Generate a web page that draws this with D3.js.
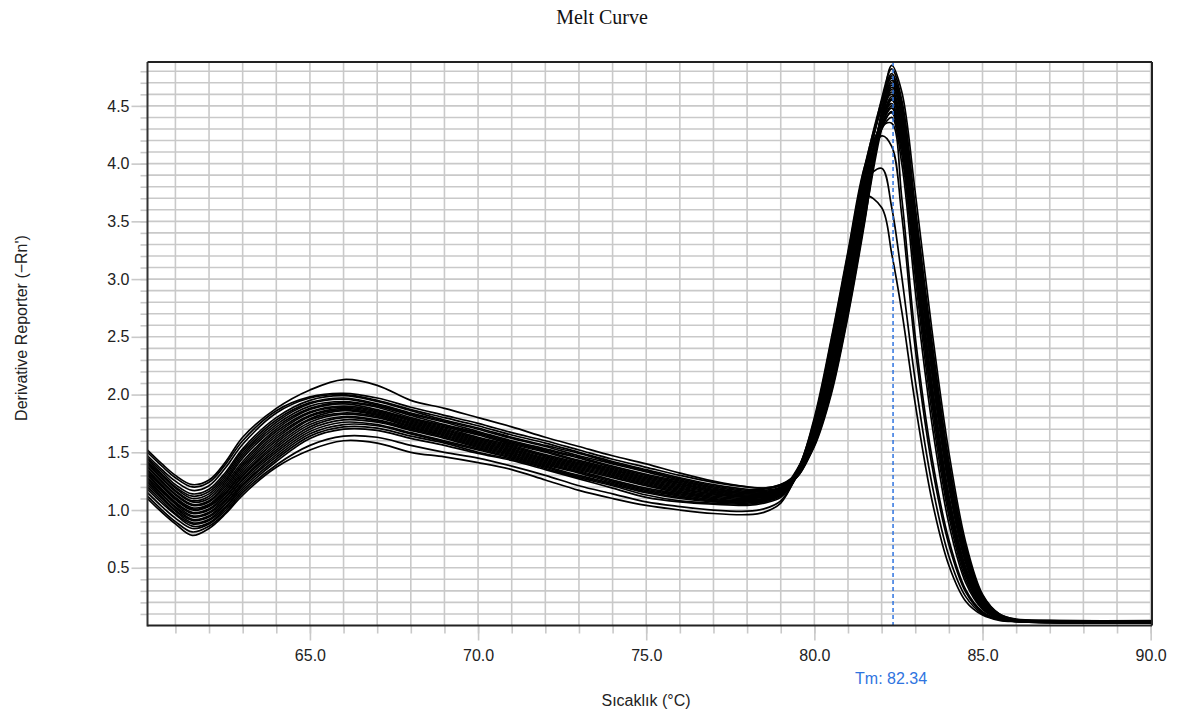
<!DOCTYPE html>
<html><head><meta charset="utf-8">
<script src="https://cdn.jsdelivr.net/npm/d3@7"></script>
<style>
html,body{margin:0;padding:0;background:#fff;}
svg{display:block;}
</style></head>
<body>
<svg id="chart" width="1183" height="718"></svg>
<script>
// ---------- DATA ----------
const chartTitle = "Melt Curve";
const xTitle = "Sıcaklık (°C)";
const yTitle = "Derivative Reporter (−Rn')";
const tmValue = 82.34;
const tmLabel = "Tm: 82.34";

const xTickLabels = ["65.0", "70.0", "75.0", "80.0", "85.0", "90.0"];
const yTickLabels = ["0.5", "1.0", "1.5", "2.0", "2.5", "3.0", "3.5", "4.0", "4.5"];

const humpTemps = [60.17, 60.6, 61, 61.5, 62, 62.5, 63, 64, 65, 66, 67, 68, 69, 70, 71, 72, 73, 74, 75, 76, 77, 78, 78.5, 79];
const peakTemps = [79.5, 80, 80.5, 81, 81.5, 82, 82.3, 82.6, 83, 83.5, 84, 84.5, 85, 85.5, 86, 87, 90];

const humpValues = [
  [1.52,1.40,1.30,1.22,1.26,1.42,1.63,1.88,2.04,2.13,2.08,1.95,1.88,1.80,1.72,1.63,1.55,1.47,1.40,1.32,1.25,1.20,1.19,1.22],
  [1.50,1.38,1.28,1.20,1.24,1.40,1.60,1.86,1.98,2.01,1.97,1.89,1.82,1.75,1.67,1.60,1.52,1.44,1.37,1.30,1.24,1.20,1.19,1.22],
  [1.47,1.35,1.25,1.17,1.21,1.37,1.57,1.84,1.97,2.00,1.95,1.87,1.80,1.73,1.65,1.58,1.50,1.42,1.35,1.28,1.22,1.18,1.18,1.21],
  [1.45,1.33,1.22,1.14,1.18,1.33,1.53,1.80,1.95,1.99,1.94,1.86,1.78,1.71,1.63,1.56,1.49,1.41,1.34,1.27,1.21,1.17,1.17,1.20],
  [1.44,1.31,1.20,1.12,1.16,1.31,1.51,1.78,1.93,1.97,1.92,1.84,1.77,1.70,1.62,1.55,1.47,1.40,1.33,1.26,1.20,1.16,1.16,1.19],
  [1.42,1.30,1.19,1.10,1.14,1.29,1.49,1.76,1.92,1.96,1.91,1.83,1.76,1.68,1.60,1.53,1.46,1.38,1.31,1.25,1.19,1.15,1.15,1.19],
  [1.41,1.28,1.17,1.08,1.12,1.27,1.47,1.74,1.90,1.94,1.90,1.82,1.74,1.67,1.59,1.52,1.45,1.37,1.30,1.24,1.18,1.15,1.15,1.18],
  [1.40,1.27,1.16,1.07,1.10,1.25,1.45,1.72,1.88,1.93,1.89,1.80,1.73,1.66,1.58,1.51,1.43,1.36,1.29,1.23,1.17,1.14,1.14,1.18],
  [1.38,1.25,1.14,1.05,1.08,1.23,1.42,1.70,1.87,1.92,1.87,1.79,1.72,1.65,1.57,1.50,1.42,1.35,1.28,1.22,1.17,1.14,1.14,1.17],
  [1.37,1.24,1.13,1.04,1.07,1.21,1.40,1.68,1.85,1.90,1.86,1.78,1.71,1.63,1.56,1.48,1.41,1.34,1.27,1.21,1.16,1.13,1.13,1.17],
  [1.35,1.22,1.11,1.02,1.05,1.19,1.38,1.66,1.84,1.89,1.85,1.77,1.70,1.62,1.55,1.47,1.40,1.33,1.26,1.20,1.15,1.12,1.13,1.17],
  [1.34,1.21,1.10,1.01,1.04,1.17,1.36,1.64,1.82,1.88,1.84,1.76,1.69,1.61,1.54,1.46,1.39,1.32,1.25,1.19,1.14,1.12,1.12,1.16],
  [1.32,1.20,1.09,1.00,1.03,1.15,1.34,1.62,1.81,1.87,1.83,1.75,1.68,1.60,1.53,1.45,1.38,1.31,1.24,1.18,1.14,1.11,1.12,1.16],
  [1.31,1.18,1.07,0.98,1.01,1.14,1.32,1.60,1.79,1.86,1.82,1.74,1.67,1.59,1.52,1.44,1.37,1.30,1.23,1.17,1.13,1.11,1.11,1.16],
  [1.30,1.17,1.06,0.97,1.00,1.12,1.30,1.58,1.78,1.84,1.81,1.73,1.66,1.58,1.51,1.43,1.36,1.29,1.22,1.16,1.12,1.10,1.11,1.15],
  [1.28,1.16,1.05,0.95,0.98,1.11,1.29,1.56,1.76,1.83,1.80,1.72,1.65,1.57,1.50,1.42,1.35,1.28,1.21,1.15,1.11,1.09,1.10,1.15],
  [1.27,1.14,1.03,0.94,0.97,1.09,1.27,1.54,1.74,1.81,1.78,1.71,1.64,1.56,1.49,1.41,1.34,1.26,1.19,1.14,1.10,1.08,1.10,1.14],
  [1.25,1.13,1.02,0.92,0.95,1.08,1.26,1.52,1.72,1.80,1.77,1.70,1.63,1.55,1.48,1.40,1.33,1.25,1.18,1.13,1.09,1.08,1.09,1.14],
  [1.24,1.11,1.00,0.91,0.94,1.06,1.24,1.50,1.70,1.78,1.76,1.69,1.62,1.54,1.47,1.39,1.32,1.24,1.17,1.12,1.08,1.07,1.09,1.14],
  [1.22,1.10,0.99,0.89,0.92,1.05,1.22,1.48,1.68,1.76,1.74,1.67,1.60,1.53,1.46,1.38,1.30,1.23,1.16,1.11,1.08,1.07,1.08,1.13],
  [1.20,1.08,0.97,0.88,0.91,1.03,1.21,1.46,1.66,1.74,1.73,1.66,1.59,1.52,1.45,1.37,1.29,1.22,1.15,1.10,1.07,1.06,1.08,1.13],
  [1.18,1.06,0.96,0.86,0.89,1.02,1.19,1.44,1.64,1.72,1.71,1.64,1.58,1.50,1.44,1.36,1.28,1.21,1.13,1.08,1.06,1.05,1.07,1.12],
  [1.15,1.03,0.93,0.84,0.88,1.00,1.17,1.42,1.62,1.70,1.69,1.62,1.56,1.49,1.43,1.35,1.27,1.19,1.11,1.07,1.05,1.04,1.06,1.11],
  [1.12,1.00,0.90,0.81,0.86,0.98,1.15,1.39,1.56,1.64,1.63,1.56,1.50,1.45,1.38,1.30,1.21,1.14,1.07,1.03,1.00,0.99,1.01,1.08],
  [1.10,0.98,0.88,0.78,0.84,0.97,1.13,1.37,1.52,1.60,1.58,1.50,1.46,1.41,1.35,1.26,1.17,1.10,1.04,1.00,0.97,0.96,0.98,1.06]
];

const peakValues = [
  [1.31,1.60,2.10,2.80,3.62,4.32,4.50,4.22,3.22,2.04,1.10,0.48,0.18,0.07,0.040,0.032,0.030],
  [1.33,1.70,2.32,3.08,3.88,4.52,4.78,4.50,3.55,2.35,1.35,0.62,0.23,0.09,0.050,0.040,0.038],
  [1.31,1.62,2.14,2.86,3.68,4.40,4.62,4.36,3.40,2.22,1.24,0.57,0.21,0.08,0.040,0.028,0.024],
  [1.34,1.74,2.38,3.14,3.92,4.48,4.70,4.40,3.42,2.22,1.24,0.56,0.21,0.08,0.045,0.036,0.034],
  [1.29,1.56,2.02,2.70,3.52,4.30,4.55,4.32,3.40,2.24,1.26,0.59,0.22,0.08,0.045,0.030,0.027],
  [1.30,1.58,2.06,2.74,3.58,4.45,4.85,4.62,3.75,2.55,1.50,0.72,0.27,0.10,0.055,0.044,0.042],
  [1.32,1.72,2.36,3.12,3.88,4.30,4.40,4.00,2.90,1.74,0.88,0.37,0.14,0.06,0.038,0.026,0.022],
  [1.29,1.57,2.04,2.72,3.56,4.36,4.66,4.44,3.52,2.35,1.34,0.63,0.24,0.09,0.050,0.038,0.035],
  [1.35,1.76,2.42,3.18,3.96,4.54,4.74,4.45,3.48,2.28,1.28,0.58,0.22,0.08,0.045,0.033,0.029],
  [1.34,1.68,2.28,3.02,3.80,4.34,4.48,4.14,3.10,1.92,1.00,0.43,0.16,0.065,0.040,0.030,0.026],
  [1.35,1.78,2.46,3.22,3.98,4.48,4.60,4.28,3.28,2.08,1.12,0.50,0.19,0.07,0.045,0.037,0.036],
  [1.36,1.66,2.24,2.98,3.82,4.56,4.82,4.55,3.62,2.42,1.40,0.66,0.25,0.09,0.050,0.042,0.040],
  [1.34,1.80,2.48,3.24,3.98,4.32,4.35,3.70,2.50,1.45,0.74,0.31,0.12,0.055,0.035,0.024,0.021],
  [1.32,1.64,2.18,2.90,3.72,4.42,4.68,4.42,3.46,2.28,1.30,0.60,0.22,0.09,0.048,0.035,0.031],
  [1.33,1.69,2.30,3.04,3.84,4.38,4.52,4.20,3.18,2.00,1.06,0.46,0.17,0.07,0.042,0.031,0.028],
  [1.31,1.55,2.00,2.68,3.50,4.44,4.76,4.52,3.60,2.45,1.42,0.68,0.26,0.10,0.052,0.039,0.037],
  [1.33,1.75,2.40,3.16,3.94,4.34,4.44,4.08,3.02,1.84,0.95,0.40,0.15,0.06,0.038,0.027,0.025],
  [1.33,1.63,2.16,2.88,3.70,4.42,4.64,4.34,3.36,2.18,1.20,0.54,0.20,0.08,0.046,0.034,0.032],
  [1.33,1.73,2.36,3.10,3.86,4.24,4.15,3.55,2.40,1.38,0.70,0.29,0.11,0.05,0.035,0.029,0.027],
  [1.30,1.61,2.12,2.84,3.66,4.36,4.58,4.33,3.38,2.20,1.22,0.56,0.21,0.08,0.044,0.033,0.030],
  [1.30,1.59,2.08,2.78,3.60,4.40,4.72,4.48,3.55,2.38,1.36,0.64,0.24,0.09,0.050,0.041,0.039],
  [1.32,1.70,2.34,3.08,3.84,3.96,3.62,3.02,2.12,1.22,0.60,0.25,0.10,0.05,0.034,0.025,0.023],
  [1.30,1.67,2.26,3.00,3.78,4.30,4.45,4.15,3.14,1.96,1.04,0.45,0.17,0.07,0.041,0.032,0.030],
  [1.31,1.71,2.34,3.06,3.72,3.62,3.22,2.72,1.92,1.08,0.52,0.21,0.09,0.045,0.033,0.026,0.024],
  [1.32,1.65,2.20,2.94,3.76,4.38,4.56,4.26,3.26,2.08,1.12,0.50,0.19,0.07,0.043,0.035,0.033]
];

// ---------- CHART ----------
const svg = d3.select("#chart");
const L = 147.5, R = 1152, T = 62, B = 625.5;

const x = d3.scaleLinear().domain([60.17, 90.04]).range([L, R]);
const y = d3.scaleLinear().domain([0, 4.88]).range([B, T]);

const xMinor = d3.range(61, 91);
const xMajor = xTickLabels.map(Number);
const yMinor = d3.range(1, 49).map(d => d / 10);
const yMajor = yTickLabels.map(Number);

const gridColor = "#c9c9c9";
const font = "'Liberation Sans', Arial, Helvetica, sans-serif";

svg.append("defs").append("clipPath").attr("id", "plotclip")
  .append("rect").attr("x", L).attr("y", T).attr("width", R - L).attr("height", B - T);

// grid
const grid = svg.append("g");
grid.selectAll("line.v").data(xMinor).join("line")
  .attr("x1", d => x(d)).attr("x2", d => x(d)).attr("y1", T).attr("y2", B)
  .attr("stroke", gridColor).attr("stroke-width", 1.6);
grid.selectAll("line.h").data(yMinor).join("line")
  .attr("x1", L).attr("x2", R).attr("y1", d => y(d)).attr("y2", d => y(d))
  .attr("stroke", gridColor).attr("stroke-width", 1.6);

// axes ticks
function styleAxis(g) {
  g.select(".domain").remove();
  g.selectAll(".tick line").attr("stroke", gridColor).attr("stroke-width", 1.6);
  g.selectAll(".tick text").attr("fill", "#222").style("font-family", font).style("font-size", "16px");
}
svg.append("g").attr("transform", `translate(${L},0)`)
  .call(d3.axisLeft(y).tickValues(yMinor).tickSize(7).tickFormat(""))
  .call(styleAxis);
svg.append("g").attr("transform", `translate(${L},0)`)
  .call(d3.axisLeft(y).tickValues(yMajor).tickSize(16).tickPadding(2).tickFormat((d, i) => yTickLabels[i]))
  .call(styleAxis);
svg.append("g").attr("transform", `translate(0,${B})`)
  .call(d3.axisBottom(x).tickValues(xMinor).tickSize(8).tickFormat(""))
  .call(styleAxis);
svg.append("g").attr("transform", `translate(0,${B})`)
  .call(d3.axisBottom(x).tickValues(xMajor).tickSize(15).tickPadding(9).tickFormat((d, i) => xTickLabels[i]))
  .call(styleAxis);

// curves
const line = d3.line()
  .x(d => x(d[0])).y(d => y(d[1]))
  .curve(d3.curveCatmullRom.alpha(0.5));
const curves = humpValues.map((h, i) =>
  humpTemps.map((t, j) => [t, h[j]]).concat(peakTemps.map((t, j) => [t, peakValues[i][j]])));

svg.append("g").attr("clip-path", "url(#plotclip)")
  .selectAll("path").data(curves).join("path")
  .attr("d", line)
  .attr("fill", "none").attr("stroke", "#000").attr("stroke-width", 1.7);

// Tm line
svg.append("line")
  .attr("x1", x(tmValue)).attr("x2", x(tmValue)).attr("y1", T).attr("y2", B)
  .attr("stroke", "#2f74e0").attr("stroke-width", 1.5).attr("stroke-dasharray", "4,3");
svg.append("text").attr("x", x(tmValue) - 2).attr("y", 684)
  .attr("text-anchor", "middle").attr("fill", "#2f74e0")
  .style("font-family", font).style("font-size", "16px").text(tmLabel);

// frame
svg.append("line").attr("x1", L).attr("x2", L).attr("y1", T).attr("y2", B + 1)
  .attr("stroke", "#333").attr("stroke-width", 2);
svg.append("line").attr("x1", L).attr("x2", R).attr("y1", B).attr("y2", B)
  .attr("stroke", "#222").attr("stroke-width", 2);
svg.append("line").attr("x1", L).attr("x2", R).attr("y1", T).attr("y2", T)
  .attr("stroke", "#222").attr("stroke-width", 2);
svg.append("line").attr("x1", R).attr("x2", R).attr("y1", T).attr("y2", B)
  .attr("stroke", "#222").attr("stroke-width", 2);

// titles
svg.append("text").attr("x", 602).attr("y", 24).attr("text-anchor", "middle")
  .attr("fill", "#111").style("font-family", "'Liberation Serif', 'Times New Roman', serif")
  .style("font-size", "20px").text(chartTitle);
svg.append("text").attr("x", 646).attr("y", 706).attr("text-anchor", "middle")
  .attr("fill", "#222").style("font-family", font).style("font-size", "16px").text(xTitle);
svg.append("text").attr("transform", "translate(27,328) rotate(-90)").attr("text-anchor", "middle")
  .attr("fill", "#222").style("font-family", font).style("font-size", "16px").text(yTitle);
</script>
</body></html>
